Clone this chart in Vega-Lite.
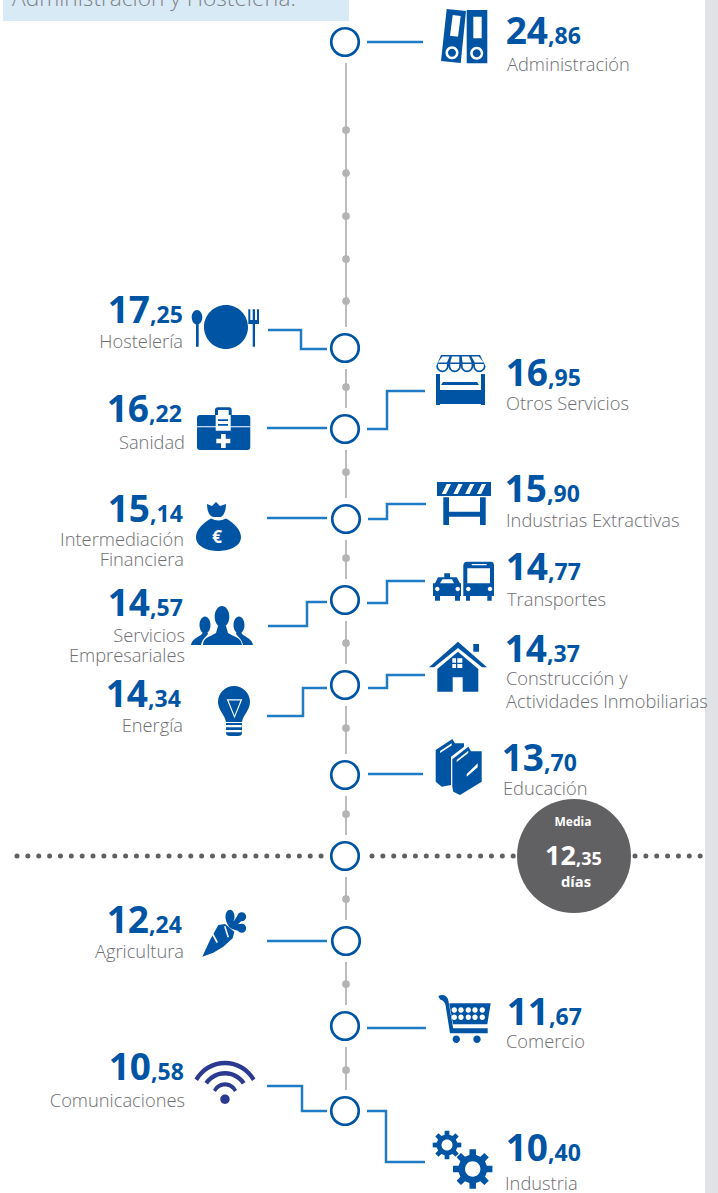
{"$schema":"https://vega.github.io/schema/vega-lite/v6.json","width":718,"height":1193,"autosize":{"type":"none"},"padding":0,"background":"white","view":{"stroke":null},
"datasets":{
"paneles":[{"zona":"nota","x":3,"x2":349,"y":0,"y2":21},{"zona":"margen","x":705,"x2":718,"y":0,"y2":1193}],
"eje":[{"x":346,"y":63,"y2":327},{"x":346,"y":369,"y2":408},{"x":346,"y":450,"y2":498},{"x":346,"y":540,"y2":579},{"x":346,"y":621,"y2":664},{"x":346,"y":706,"y2":754},{"x":346,"y":796,"y2":835},{"x":346,"y":877,"y2":920},{"x":346,"y":962,"y2":1005},{"x":346,"y":1047,"y2":1090}],
"hitos":[{"x":346,"y":130},{"x":346,"y":173},{"x":346,"y":216},{"x":346,"y":259},{"x":346,"y":301},{"x":346,"y":387},{"x":346,"y":472},{"x":346,"y":558},{"x":346,"y":643},{"x":346,"y":728},{"x":346,"y":814},{"x":346,"y":899},{"x":346,"y":984},{"x":346,"y":1070}],
"media":[{"x":17,"x2":322,"y":856},{"x":372,"x2":515,"y":856},{"x":635,"x2":705,"y":856}],
"nodos":[{"sector":"Administración","x":345,"y":42},{"sector":"Hostelería","x":345,"y":348},{"sector":"Sanidad / Otros Servicios","x":345,"y":429},{"sector":"Intermediación / Extractivas","x":346,"y":519},{"sector":"Empresariales / Transportes","x":345,"y":600},{"sector":"Energía / Construcción","x":345,"y":685},{"sector":"Educación","x":345,"y":775},{"sector":"Media","x":345,"y":856},{"sector":"Agricultura","x":346,"y":941},{"sector":"Comercio","x":345,"y":1026},{"sector":"Comunicaciones / Industria","x":345,"y":1111}],
"conectores":[
{"l":"adm","o":1,"x":367,"y":42},{"l":"adm","o":2,"x":423,"y":42},
{"l":"hos","o":1,"x":268,"y":330},{"l":"hos","o":2,"x":301,"y":330},{"l":"hos","o":3,"x":301,"y":349},{"l":"hos","o":4,"x":327,"y":349},
{"l":"otr","o":1,"x":367,"y":429},{"l":"otr","o":2,"x":387,"y":429},{"l":"otr","o":3,"x":387,"y":391},{"l":"otr","o":4,"x":425,"y":391},
{"l":"san","o":1,"x":267,"y":428},{"l":"san","o":2,"x":327,"y":428},
{"l":"int","o":1,"x":267,"y":518},{"l":"int","o":2,"x":327,"y":518},
{"l":"ext","o":1,"x":368,"y":519},{"l":"ext","o":2,"x":387,"y":519},{"l":"ext","o":3,"x":387,"y":504},{"l":"ext","o":4,"x":426,"y":504},
{"l":"tra","o":1,"x":367,"y":603},{"l":"tra","o":2,"x":387,"y":603},{"l":"tra","o":3,"x":387,"y":581},{"l":"tra","o":4,"x":425,"y":581},
{"l":"emp","o":1,"x":268,"y":626},{"l":"emp","o":2,"x":307,"y":626},{"l":"emp","o":3,"x":307,"y":602},{"l":"emp","o":4,"x":327,"y":602},
{"l":"ene","o":1,"x":267,"y":716},{"l":"ene","o":2,"x":303,"y":716},{"l":"ene","o":3,"x":303,"y":688},{"l":"ene","o":4,"x":327,"y":688},
{"l":"con","o":1,"x":368,"y":688},{"l":"con","o":2,"x":387,"y":688},{"l":"con","o":3,"x":387,"y":675},{"l":"con","o":4,"x":425,"y":675},
{"l":"edu","o":1,"x":368,"y":774},{"l":"edu","o":2,"x":423,"y":774},
{"l":"agr","o":1,"x":267,"y":941},{"l":"agr","o":2,"x":327,"y":941},
{"l":"com","o":1,"x":367,"y":1028},{"l":"com","o":2,"x":426,"y":1028},
{"l":"tel","o":1,"x":267,"y":1086},{"l":"tel","o":2,"x":302,"y":1086},{"l":"tel","o":3,"x":302,"y":1111},{"l":"tel","o":4,"x":327,"y":1111},
{"l":"ind","o":1,"x":367,"y":1111},{"l":"ind","o":2,"x":386,"y":1111},{"l":"ind","o":3,"x":386,"y":1162},{"l":"ind","o":4,"x":425,"y":1162}],
"iconos":[
{"i":"carpetas","p":"cuerpo","x":464,"y":36},{"i":"carpetas-d","p":"detalle","x":464,"y":36},
{"i":"plato","p":"cuerpo","x":226,"y":327},
{"i":"maletin","p":"cuerpo","x":224,"y":430},{"i":"maletin-d","p":"detalle","x":224,"y":430},
{"i":"puesto","p":"cuerpo","x":460,"y":380},{"i":"puesto-d","p":"detalle","x":460,"y":380},
{"i":"valla","p":"cuerpo","x":464,"y":504},{"i":"valla-d","p":"detalle","x":464,"y":504},
{"i":"bolsa","p":"cuerpo","x":218,"y":527},
{"i":"personas","p":"cuerpo","x":222,"y":630},
{"i":"bombilla","p":"cuerpo","x":234,"y":705},{"i":"bombilla-d","p":"detalle","x":234,"y":705},
{"i":"transporte","p":"cuerpo","x":464,"y":581},{"i":"transporte-d","p":"detalle","x":464,"y":581},
{"i":"casa","p":"cuerpo","x":458,"y":666},{"i":"casa-d","p":"detalle","x":458,"y":666},
{"i":"libros","p":"cuerpo","x":458,"y":767},{"i":"libros-d","p":"detalle","x":458,"y":767},
{"i":"zanahoria","p":"cuerpo","x":222,"y":935},{"i":"zanahoria-d","p":"detalle","x":222,"y":935},
{"i":"wifi","p":"marino","x":225,"y":1080},
{"i":"carro","p":"cuerpo","x":465,"y":1025},{"i":"carro-d","p":"detalle","x":465,"y":1025},
{"i":"engranaje-p","p":"cuerpo","x":447,"y":1145},{"i":"engranaje-p-d","p":"detalle","x":447,"y":1145},
{"i":"engranaje-g","p":"cuerpo","x":472.7,"y":1169},{"i":"engranaje-g-d","p":"detalle","x":472.7,"y":1169}],
"cifras":[
{"sector":"Administración","dias":24.86,"entero":"24","decimal":",86","x":548,"y":44},
{"sector":"Hostelería","dias":17.25,"entero":"17","decimal":",25","x":150,"y":323},
{"sector":"Otros Servicios","dias":16.95,"entero":"16","decimal":",95","x":548,"y":386},
{"sector":"Sanidad","dias":16.22,"entero":"16","decimal":",22","x":149,"y":422},
{"sector":"Industrias Extractivas","dias":15.9,"entero":"15","decimal":",90","x":547,"y":502},
{"sector":"Intermediación Financiera","dias":15.14,"entero":"15","decimal":",14","x":150,"y":522},
{"sector":"Transportes","dias":14.77,"entero":"14","decimal":",77","x":548,"y":580},
{"sector":"Servicios Empresariales","dias":14.57,"entero":"14","decimal":",57","x":150,"y":616},
{"sector":"Construcción y Actividades Inmobiliarias","dias":14.37,"entero":"14","decimal":",37","x":547,"y":662},
{"sector":"Energía","dias":14.34,"entero":"14","decimal":",34","x":148,"y":707},
{"sector":"Educación","dias":13.7,"entero":"13","decimal":",70","x":544,"y":771},
{"sector":"Agricultura","dias":12.24,"entero":"12","decimal":",24","x":149,"y":933},
{"sector":"Comercio","dias":11.67,"entero":"11","decimal":",67","x":549,"y":1025},
{"sector":"Comunicaciones","dias":10.58,"entero":"10","decimal":",58","x":151,"y":1080},
{"sector":"Industria","dias":10.4,"entero":"10","decimal":",40","x":548,"y":1161}],
"etiquetasD":[
{"t":"Administración","x":507,"y":71},{"t":"Otros Servicios","x":506,"y":410},{"t":"Industrias Extractivas","x":506,"y":527},{"t":"Transportes","x":507,"y":606},{"t":"Construcción y","x":506,"y":685},{"t":"Actividades Inmobiliarias","x":506,"y":708},{"t":"Educación","x":503,"y":795},{"t":"Comercio","x":506,"y":1048},{"t":"Industria","x":505,"y":1190}],
"etiquetasI":[
{"t":"Hostelería","x":183,"y":348},{"t":"Sanidad","x":185,"y":449},{"t":"Intermediación","x":184,"y":546},{"t":"Financiera","x":184,"y":566},{"t":"Servicios","x":185,"y":642},{"t":"Empresariales","x":185,"y":662},{"t":"Energía","x":183,"y":732},{"t":"Agricultura","x":184,"y":958},{"t":"Comunicaciones","x":185,"y":1107}],
"blancos":[
{"t":"Media","k":"media","x":573,"y":826},{"t":"días","k":"dias","x":576,"y":887},{"t":"€","k":"euro","x":217,"y":543}]
},
"encoding":{"x":{"field":"x","type":"quantitative","scale":{"domain":[0,718],"nice":false,"zero":false},"axis":null},"y":{"field":"y","type":"quantitative","scale":{"domain":[1193,0],"nice":false,"zero":false},"axis":null}},
"resolve":{"scale":{"color":"independent"}},
"layer":[
{"data":{"name":"paneles"},"mark":{"type":"rect"},"encoding":{"x2":{"field":"x2"},"y2":{"field":"y2"},"color":{"field":"zona","type":"nominal","scale":{"domain":["nota","margen"],"range":["#d9eaf7","#e0e2e5"]},"legend":null}}},
{"data":{"values":[{"t":"Administración y Hostelería.","x":12,"y":6}]},"mark":{"type":"text","align":"left","baseline":"alphabetic","font":"Open Sans","fontWeight":300,"fontSize":22.7,"color":"#7d8185"},"encoding":{"text":{"field":"t"}}},
{"data":{"name":"eje"},"mark":{"type":"rule","color":"#bcbcbc","strokeWidth":2},"encoding":{"y2":{"field":"y2"}}},
{"data":{"name":"hitos"},"mark":{"type":"point","filled":true,"shape":"circle","size":60,"color":"#b4b4b4","opacity":1}},
{"data":{"name":"media"},"mark":{"type":"rule","color":"#5f6062","strokeWidth":5,"strokeCap":"round","strokeDash":[0.01,10.85]},"encoding":{"x2":{"field":"x2"}}},
{"data":{"name":"conectores"},"mark":{"type":"line","color":"#1f7cc4","strokeWidth":2.5,"strokeJoin":"miter"},"encoding":{"detail":{"field":"l"},"order":{"field":"o","type":"quantitative"}}},
{"data":{"name":"nodos"},"mark":{"type":"point","shape":"circle","filled":true,"fill":"white","stroke":"#0054a4","strokeWidth":2.7,"size":756,"opacity":1}},
{"data":{"values":[{"x":574,"y":856}]},"mark":{"type":"point","shape":"circle","filled":true,"size":12996,"color":"#616163","opacity":1}},
{"data":{"name":"iconos"},"mark":{"type":"point","filled":true,"size":4,"opacity":1},"encoding":{
"color":{"field":"p","type":"nominal","scale":{"domain":["cuerpo","detalle","marino"],"range":["#0054a4","#ffffff","#2b3990"]},"legend":null},
"shape":{"field":"i","type":"nominal","legend":null,"scale":{"domain":["carpetas","carpetas-d","plato","maletin","maletin-d","puesto","puesto-d","valla","valla-d","bolsa","personas","bombilla","bombilla-d","transporte","transporte-d","casa","casa-d","libros","libros-d","zanahoria","zanahoria-d","wifi","carro","carro-d","engranaje-p","engranaje-p-d","engranaje-g","engranaje-g-d"],"range":[
"M-17.3 -27L2 -25L-3.3 27L-23 25ZM2.7 -26H23.3V27.3H2.7Z",
"M-11.3 -21L-3.3 -20L-6 0.7L-14 -0.3ZM9.3 -19.3H17.7V2.3H9.3ZM-18.5 16.7a6.5 6.5 0 1 0 13 0a6.5 6.5 0 1 0 -13 0ZM-16 16.7a4 4 0 1 1 8 0a4 4 0 1 1 -8 0ZM6.2 17.3a6.5 6.5 0 1 0 13 0a6.5 6.5 0 1 0 -13 0ZM8.7 17.3a4 4 0 1 1 8 0a4 4 0 1 1 -8 0Z",
"M-22 0a22 22 0 1 1 44 0a22 22 0 1 1 -44 0ZM-34.3 -9.7a5.3 7.3 0 1 1 10.6 0a5.3 7.3 0 1 1 -10.6 0ZM-30 -8H-27.3V19.7H-30ZM22.3 -17.7H24.3V-7H26.7V-17.7H29V-7H31V-17.7H33V-3H29V19.7H26.7V-3H22.3Z",
"M-24 -15H23.3Q26.3 -15 26.3 -12V17Q26.3 20 23.3 20H-24Q-27 20 -27 17V-12Q-27 -15 -24 -15ZM-9 -15V-20Q-9 -22.7 -6 -22.7H5Q7.7 -22.7 7.7 -20V-15H4.7V-20H-6V-15Z",
"M-27 -3.7H26.3V-2.7H-27ZM-8.3 -15H6.7V0.7H-8.3ZM-6 -10.7V-9H4V-10.7ZM-6 -6V-4.3H4V-6ZM-2.9 4H1.7V8.7H6.3V13.3H1.7V18H-2.9V13.3H-7.7V8.7H-2.9Z",
"M-19 -25H20L25.5 -14A6.15 6.15 0 0 1 13.2 -14A6.15 6.15 0 0 1 0.9 -14A6.15 6.15 0 0 1 -11.4 -14A6.15 6.15 0 0 1 -23.7 -14ZM-24 -6H-20V10H21V-6H25V25H21V24H-20V25H-24ZM-17 2H17L19 5H-19Z",
"M-17.8 -23.5L-10.45 -23.5L-13.05 -17.5L-22.05 -17.5ZM-8.05 -23.5L-0.7 -23.5L-0.75 -17.5L-9.75 -17.5ZM1.7 -23.5L9.05 -23.5L11.55 -17.5L2.55 -17.5ZM11.45 -23.5L18.8 -23.5L23.85 -17.5L14.85 -17.5ZM-22.05 -16H-13.05V-14A4.5 4.5 0 0 1 -22.05 -14ZM-9.75 -16H-0.75V-14A4.5 4.5 0 0 1 -9.75 -14ZM2.55 -16H11.55V-14A4.5 4.5 0 0 1 2.55 -14ZM14.85 -16H23.85V-14A4.5 4.5 0 0 1 14.85 -14Z",
"M-27 -22H27V-8H-27ZM-20.7 -6.7H-15V7.7H16V-6.7H21.7V21H16V12.7H-15V21H-20.7Z",
"M-22.3 -10L-18 -10L-13 -20L-17.3 -20ZM-10.6 -10L-6.3 -10L-1.3 -20L-5.6 -20ZM1.1 -10L5.4 -10L10.4 -20L6.1 -20ZM12.8 -10L17.1 -10L22.1 -20L17.8 -20Z",
"M-11 -23L-6 -21L-2 -25L2 -21L8 -23C8 -15 5 -11 3 -10H-5C-8 -11 -11 -15 -11 -23ZM-7 -8.5C-2 -6 3 -6 8 -8.5C16 -4 23 3 23 10C23 20 10 24 0 24C-10 24 -22 20 -22 10C-22 3 -15 -4 -7 -8.5Z",
"M-7.3 -13.3a7.3 10.7 0 1 1 14.6 0a7.3 10.7 0 1 1 -14.6 0ZM-19 15C-19 7 -12 7 -6 3L-4 -4H4L6 3C12 7 19 7 20 15ZM-22.5 -5a5.5 8.5 0 1 1 11 0a5.5 8.5 0 1 1 -11 0ZM11.5 -5a5.5 8.5 0 1 1 11 0a5.5 8.5 0 1 1 -11 0ZM-31 15C-30 9 -25 8 -20 4L-19 1H-15L-14 4C-16 7 -20 9 -21 15ZM21 15C20 9 16 7 14 4L15 1H19L20 4C25 8 30 9 31 15Z",
"M-16 -3A16 16 0 0 1 16 -3C16 5 9 10 8 17H-8C-9 10 -16 5 -16 -3ZM-8 18H8V28Q8 31 4 31H-4Q-8 31 -8 28Z",
"M-7.3 -5.7H8.3L0.5 13.3ZM-5.5 -4.5L0.5 10.5L6.5 -4.5ZM-8.3 20H7.7V22.3H-8.3ZM-8.3 25H7.7V27.3H-8.3Z",
"M-19.7 -7.7H-14V-3.7H-7.3L-4 2.3H-3V15H-4V19.7H-9V15H-24V19.7H-29V15H-31V2.3H-29L-26 -3.7H-19.7ZM3 -19.3H27Q30 -19.3 30 -15V15H27.7V19.7H23.3V15H6V19.7H2V15H-0.7V-15Q-0.7 -19.3 3 -19.3Z",
"M-24 2.3L-21.5 -1.7H-12L-10 2.3ZM3.3 -12.7H26V2.3H3.3ZM7.7 -17H22.7V-15.7H7.7ZM-28.9 8a2.2 2.2 0 1 1 4.4 0a2.2 2.2 0 1 1 -4.4 0ZM-8.5 8a2.2 2.2 0 1 1 4.4 0a2.2 2.2 0 1 1 -4.4 0ZM2.1 8a2.2 2.2 0 1 1 4.4 0a2.2 2.2 0 1 1 -4.4 0ZM23.8 8a2.2 2.2 0 1 1 4.4 0a2.2 2.2 0 1 1 -4.4 0Z",
"M0 -24.3L29 1.3H24L0 -18L-24 1.3H-29ZM0 -14.3L20.3 3V25.7H4.7V11.3H-5.3V25.7H-20.7V3ZM15.3 -22H21V-14.3H15.3Z",
"M-5.7 -7.7H-2V-3.3H-5.7ZM-0.7 -7.7H4.3V-3.3H-0.7ZM-5.7 -2H-2V2H-5.7ZM-0.7 -2H4.3V2H-0.7Z",
"M-22.3 -17L-5.7 -28L-3 -23.7H6V-20.3L-7 -10.3V18L-16.3 19.7L-22.3 14.7ZM-5.7 -7.7L10.3 -20.3L13 -15.7H23.7V14.7L2 28L-4.7 24.7L-5.7 19.7Z",
"M8.7 7L19.7 -3.7V0.3L8.7 9.7ZM-1.3 -7L10.3 -16.3V-14L-1.3 -5ZM-18 -16L-6.3 -23.7V-21.5L-18 -14Z",
"M-19.7 21.7L-12 5L-3.7 -10L3 -11L12.3 -3.3L10.7 3.3L1.3 11.7L-8.7 17.7ZM3.5 -18.3a4.5 7 0 1 1 9 0a4.5 7 0 1 1 -9 0ZM15.2 -18.3a4.5 4.5 0 1 1 9 0a4.5 4.5 0 1 1 -9 0ZM15.2 -6.7a4.5 4.5 0 1 1 9 0a4.5 4.5 0 1 1 -9 0ZM4 -14L12 -14L17 -22L23 -17L16 -11L22 -10L20 -3L10 -6L7 -8Z",
"M-11 -2L-9.5 -3L-4 7L-5.5 8ZM2 -8.5L3.5 -9L7 2L5.5 2.5Z",
"M-30.5 -1.5A35 35 0 0 1 30.5 -1.5L27 1A31 31 0 0 0 -27 1ZM-20.5 2A24.6 24.6 0 0 1 20.5 2L17 4.5A20.6 20.6 0 0 0 -17 4.5ZM-12 10A13.1 13.1 0 0 1 12 10L9 12A10.1 10.1 0 0 0 -9 12ZM-4.7 19.3a4.7 4.7 0 1 1 9.4 0a4.7 4.7 0 1 1 -9.4 0Z",
"M-15.7 -21.7H25.7L22.3 -0.7H-12ZM-13.3 3.3H22.7V8.3H-13.3ZM-26.7 -29Q-20 -32 -17 -26L-16 -21L-11 8.3H-15L-19.5 -20Q-21 -25 -25 -25.5ZM-12.4 14.3a3.7 3.7 0 1 1 7.4 0a3.7 3.7 0 1 1 -7.4 0ZM8.3 14.3a3.7 3.7 0 1 1 7.4 0a3.7 3.7 0 1 1 -7.4 0Z",
"M-13.4 -15a2.7 2.7 0 1 1 5.4 0a2.7 2.7 0 1 1 -5.4 0ZM-6.7 -15a2.7 2.7 0 1 1 5.4 0a2.7 2.7 0 1 1 -5.4 0ZM0.6 -15a2.7 2.7 0 1 1 5.4 0a2.7 2.7 0 1 1 -5.4 0ZM7.3 -15a2.7 2.7 0 1 1 5.4 0a2.7 2.7 0 1 1 -5.4 0ZM14.6 -15a2.7 2.7 0 1 1 5.4 0a2.7 2.7 0 1 1 -5.4 0ZM-13.4 -7.7a2.7 2.7 0 1 1 5.4 0a2.7 2.7 0 1 1 -5.4 0ZM-6.7 -7.7a2.7 2.7 0 1 1 5.4 0a2.7 2.7 0 1 1 -5.4 0ZM0.6 -7.7a2.7 2.7 0 1 1 5.4 0a2.7 2.7 0 1 1 -5.4 0ZM7.3 -7.7a2.7 2.7 0 1 1 5.4 0a2.7 2.7 0 1 1 -5.4 0ZM14.6 -7.7a2.7 2.7 0 1 1 5.4 0a2.7 2.7 0 1 1 -5.4 0Z",
"M10.2 -2.4L14.3 -2.3L14.3 2.3L10.2 2.4L8.9 5.6L11.7 8.5L8.5 11.7L5.6 8.9L2.4 10.2L2.3 14.3L-2.3 14.3L-2.4 10.2L-5.6 8.9L-8.5 11.7L-11.7 8.5L-8.9 5.6L-10.2 2.4L-14.3 2.3L-14.3 -2.3L-10.2 -2.4L-8.9 -5.6L-11.7 -8.5L-8.5 -11.7L-5.6 -8.9L-2.4 -10.2L-2.3 -14.3L2.3 -14.3L2.4 -10.2L5.6 -8.9L8.5 -11.7L11.7 -8.5L8.9 -5.6Z",
"M-5.5 0a5.5 5.5 0 1 1 11 0a5.5 5.5 0 1 1 -11 0Z",
"M14.1 -3.3L19.7 -3.2L19.7 3.2L14.1 3.3L12.3 7.7L16.1 11.7L11.7 16.1L7.7 12.3L3.3 14.1L3.2 19.7L-3.2 19.7L-3.3 14.1L-7.7 12.3L-11.7 16.1L-16.1 11.7L-12.3 7.7L-14.1 3.3L-19.7 3.2L-19.7 -3.2L-14.1 -3.3L-12.3 -7.7L-16.1 -11.7L-11.7 -16.1L-7.7 -12.3L-3.3 -14.1L-3.2 -19.7L3.2 -19.7L3.3 -14.1L7.7 -12.3L11.7 -16.1L16.1 -11.7L12.3 -7.7Z",
"M-7.7 0a7.7 7.7 0 1 1 15.4 0a7.7 7.7 0 1 1 -15.4 0Z"
]}}}},
{"data":{"name":"cifras"},"mark":{"type":"text","align":"right","baseline":"alphabetic","font":"Open Sans","fontWeight":700,"fontSize":37,"color":"#0054a4"},"encoding":{"text":{"field":"entero"}}},
{"data":{"name":"cifras"},"mark":{"type":"text","align":"left","baseline":"alphabetic","font":"Open Sans","fontWeight":700,"fontSize":23,"color":"#0054a4"},"encoding":{"text":{"field":"decimal"}}},
{"data":{"name":"etiquetasD"},"mark":{"type":"text","align":"left","baseline":"alphabetic","font":"Open Sans","fontWeight":300,"fontSize":18.3,"color":"#6d6e71"},"encoding":{"text":{"field":"t"}}},
{"data":{"name":"etiquetasI"},"mark":{"type":"text","align":"right","baseline":"alphabetic","font":"Open Sans","fontWeight":300,"fontSize":18.3,"color":"#6d6e71"},"encoding":{"text":{"field":"t"}}},
{"data":{"values":[{"entero":"12","x":576,"y":865}]},"mark":{"type":"text","align":"right","baseline":"alphabetic","font":"Open Sans","fontWeight":700,"fontSize":27,"color":"white"},"encoding":{"text":{"field":"entero"}}},
{"data":{"values":[{"decimal":",35","x":576,"y":865}]},"mark":{"type":"text","align":"left","baseline":"alphabetic","font":"Open Sans","fontWeight":700,"fontSize":18,"color":"white"},"encoding":{"text":{"field":"decimal"}}},
{"data":{"name":"blancos"},"mark":{"type":"text","align":"center","baseline":"alphabetic","font":"Open Sans","fontWeight":700,"color":"white"},"encoding":{"text":{"field":"t"},"size":{"field":"k","type":"nominal","legend":null,"scale":{"domain":["media","dias","euro"],"range":[12,17.5,22]}}}}
]}
